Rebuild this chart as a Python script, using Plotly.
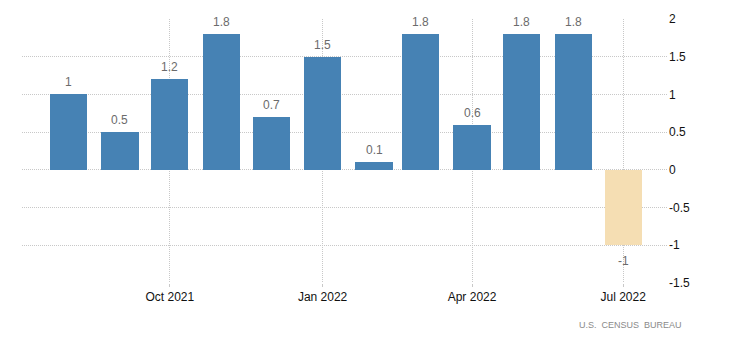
import plotly.graph_objects as go

# Monthly change, Aug 2021 - Jul 2022
months = ["2021-08-01", "2021-09-01", "2021-10-01", "2021-11-01", "2021-12-01",
          "2022-01-01", "2022-02-01", "2022-03-01", "2022-04-01", "2022-05-01",
          "2022-06-01", "2022-07-01"]
values = [1, 0.5, 1.2, 1.8, 0.7, 1.5, 0.1, 1.8, 0.6, 1.8, 1.8, -1]
x_tick_vals = ["2021-10-01", "2022-01-01", "2022-04-01", "2022-07-01"]
x_tick_text = ["Oct 2021", "Jan 2022", "Apr 2022", "Jul 2022"]
y_tick_vals = [-1.5, -1, -0.5, 0, 0.5, 1, 1.5, 2]
y_tick_text = ["-1.5", "-1", "-0.5", "0", "0.5", "1", "1.5", "2"]

POS_COLOR = "#4682B4"
NEG_COLOR = "#F5DEB3"
DAY_MS = 86400000

colors = [POS_COLOR if v >= 0 else NEG_COLOR for v in values]

fig = go.Figure()
fig.add_trace(go.Bar(
    x=months, y=values,
    marker=dict(color=colors, line=dict(width=0)),
    width=[22.4 * DAY_MS] * len(values),
    hoverinfo="x+y",
))

# value labels above positive bars, below negative ones
annotations = []
for m, v in zip(months, values):
    annotations.append(dict(
        x=m, y=v, xref="x", yref="y",
        text=f"{v:g}", showarrow=False,
        yanchor="bottom" if v >= 0 else "top",
        yshift=3 if v >= 0 else -7,
        font=dict(family="Liberation Sans, Arial, sans-serif", size=12, color="#6b6b6b"),
    ))

plot_w = 731 - 22 - 63
plot_h = 349 - 19 - 66
annotations.append(dict(
    x=(684 - 22) / plot_w, y=(349 - 66 - 325) / plot_h,
    xref="paper", yref="paper", text="U.S.&nbsp; CENSUS&nbsp; BUREAU",
    showarrow=False, xanchor="right", yanchor="middle",
    font=dict(family="Liberation Sans, Arial, sans-serif", size=9, color="#8a8a8a"),
))

fig.update_layout(
    width=731, height=349,
    margin=dict(l=22, r=63, t=19, b=66),
    paper_bgcolor="white", plot_bgcolor="white",
    showlegend=False,
    bargap=0,
    font=dict(family="Liberation Sans, Arial, sans-serif", size=12, color="#111111"),
    xaxis=dict(
        type="date",
        range=["2021-07-04", "2022-07-28"],
        tickvals=x_tick_vals, ticktext=x_tick_text,
        showgrid=True, gridcolor="#c8c8c8", griddash="1px,1px", gridwidth=1,
        ticks="outside", ticklen=3, tickcolor="#c8c8c8",
        showline=False, zeroline=False,
        tickfont=dict(size=12, color="#111111"),
    ),
    yaxis=dict(
        side="right",
        range=[-1.5, 2],
        tickvals=y_tick_vals, ticktext=y_tick_text,
        showgrid=True, gridcolor="#c8c8c8", griddash="1px,1px", gridwidth=1,
        zeroline=False, showline=False, ticks="",
        tickfont=dict(size=12, color="#111111"),
    ),
    annotations=annotations,
)

fig.write_html("out.html")
